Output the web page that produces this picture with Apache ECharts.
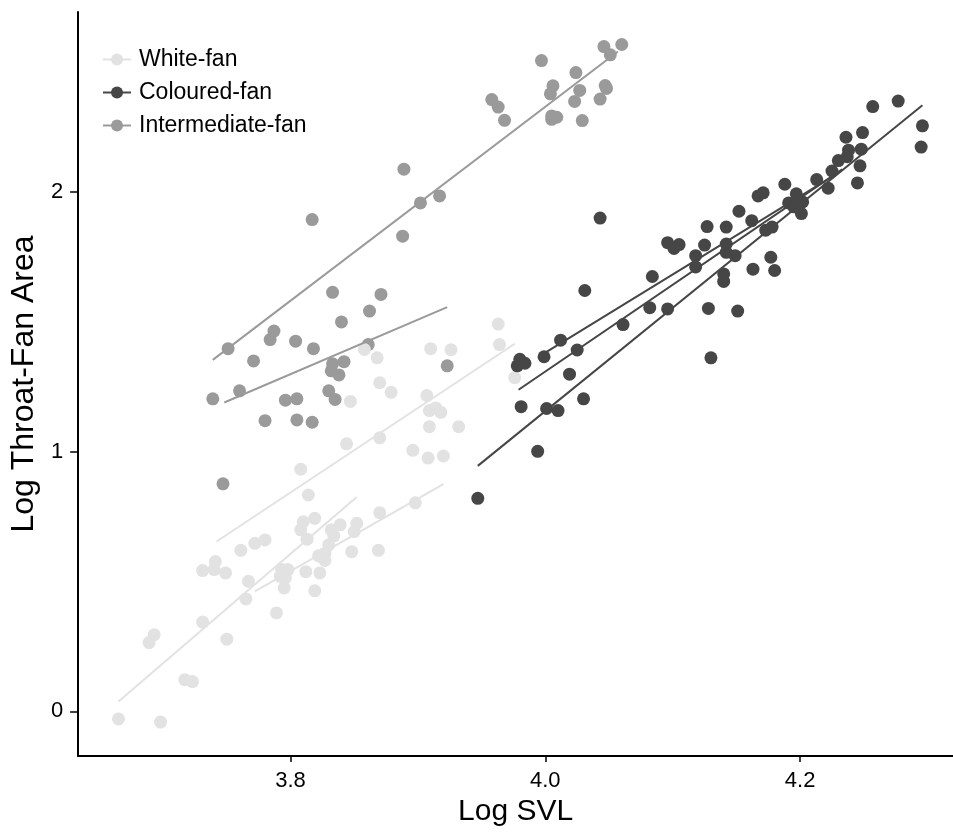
<!DOCTYPE html>
<html>
<head>
<meta charset="UTF-8">
<title>throat fan</title>
<script src="https://cdn.jsdelivr.net/npm/echarts@6.0.0/dist/echarts.min.js"></script>
<style>
  html, body { margin: 0; padding: 0; background: #fff; }
  #main { width: 953px; height: 832px; }
</style>
</head>
<body>
<div id="main"></div>
<script type="text/javascript">
// log SVL / log throat-fan area
var whitePts = [
    [3.858,1.393],[3.868,1.361],[3.910,1.396],[3.926,1.392],[3.870,1.265],[3.879,1.228],
    [3.847,1.193],[3.907,1.216],[3.909,1.158],[3.914,1.168],[3.918,1.151],[3.909,1.096],
    [3.932,1.096],[3.844,1.030],[3.870,1.053],[3.896,1.005],[3.908,0.975],[3.920,0.983],
    [3.808,0.932],[3.814,0.833],[3.810,0.730],[3.819,0.743],[3.808,0.699],[3.813,0.663],
    [3.832,0.699],[3.839,0.718],[3.852,0.724],[3.850,0.692],[3.870,0.765],[3.898,0.803],
    [3.834,0.676],[3.830,0.641],[3.827,0.609],[3.822,0.599],[3.827,0.581],[3.848,0.615],
    [3.869,0.620],[3.772,0.647],[3.780,0.660],[3.761,0.620],[3.741,0.577],[3.731,0.542],
    [3.740,0.546],[3.749,0.533],[3.767,0.501],[3.793,0.546],[3.798,0.546],[3.792,0.520],
    [3.796,0.514],[3.795,0.475],[3.812,0.538],[3.823,0.533],[3.819,0.464],[3.765,0.433],
    [3.789,0.379],[3.731,0.344],[3.750,0.278],[3.693,0.295],[3.689,0.265],[3.717,0.122],
    [3.723,0.115],[3.665,-0.029],[3.698,-0.041],[3.963,1.491],[3.964,1.412],[3.976,1.285]
];
var colouredPts = [
    [4.188,2.029],[4.213,2.047],[4.222,2.014],[4.245,2.034],[4.167,1.984],[4.171,1.996],
    [4.197,1.992],[4.191,1.957],[4.202,1.961],[4.201,1.916],[4.195,1.942],[4.152,1.925],
    [4.162,1.889],[4.127,1.866],[4.142,1.864],[4.173,1.852],[4.178,1.864],[4.043,1.899],
    [4.096,1.804],[4.105,1.797],[4.101,1.782],[4.125,1.795],[4.142,1.799],[4.118,1.754],
    [4.142,1.767],[4.149,1.754],[4.177,1.748],[4.118,1.711],[4.163,1.702],[4.180,1.697],
    [4.140,1.684],[4.140,1.655],[4.084,1.674],[4.031,1.620],[4.128,1.551],[4.151,1.541],
    [4.082,1.554],[4.096,1.549],[4.061,1.489],[4.012,1.429],[3.999,1.365],[4.025,1.391],
    [3.980,1.355],[3.984,1.340],[3.978,1.330],[4.130,1.361],[4.019,1.298],[3.981,1.173],
    [4.001,1.166],[4.010,1.158],[4.030,1.203],[3.994,1.001],[3.947,0.820],
    [4.257,2.328],[4.277,2.349],[4.296,2.254],[4.295,2.172],[4.249,2.228],[4.248,2.164],
    [4.236,2.210],[4.238,2.160],[4.237,2.135],[4.247,2.100],[4.230,2.120],[4.225,2.080]
];
var interPts = [
    [3.833,1.613],[3.871,1.605],[3.862,1.541],[3.840,1.499],[3.787,1.464],[3.784,1.431],
    [3.804,1.425],[3.818,1.396],[3.751,1.396],[3.861,1.412],[3.771,1.349],[3.833,1.338],
    [3.842,1.346],[3.832,1.311],[3.838,1.295],[3.923,1.330],[3.739,1.203],[3.760,1.234],
    [3.796,1.198],[3.805,1.203],[3.830,1.234],[3.835,1.201],[3.780,1.119],[3.805,1.122],
    [3.817,1.113],[3.747,0.876],[4.046,2.559],[4.060,2.567],[4.051,2.527],[3.997,2.505],
    [4.024,2.459],[4.006,2.408],[4.004,2.377],[4.027,2.390],[4.047,2.409],[4.048,2.398],
    [4.023,2.348],[4.043,2.357],[3.958,2.355],[3.963,2.326],[3.968,2.275],[4.005,2.292],
    [4.009,2.287],[4.005,2.279],[4.029,2.274],[3.889,2.087],[3.917,1.984],[3.902,1.957],
    [3.817,1.893],[3.888,1.829]
];
// fitted lines, [start, end]
var whiteFits = [
    [[3.665,0.038],[3.852,0.825]],
    [[3.742,0.654],[3.976,1.415]],
    [[3.772,0.462],[3.920,0.875]]
];
var colouredFits = [
    [[3.947,0.945],[4.296,2.333]],
    [[3.979,1.238],[4.233,2.086]],
    [[4.000,1.381],[4.229,2.070]]
];
var interFits = [
    [[3.739,1.353],[4.057,2.540]],
    [[3.748,1.189],[3.923,1.556]]
];
var xTicks = [3.8, 4.0, 4.2];
var yTicks = [0, 1, 2];

var groups = [
    {name: 'White-fan', color: '#e2e2e2', pts: whitePts, fits: whiteFits},
    {name: 'Coloured-fan', color: '#464646', pts: colouredPts, fits: colouredFits},
    {name: 'Intermediate-fan', color: '#9a9a9a', pts: interPts, fits: interFits}
];

var series = [];
// lines first so the legend takes the line+dot icon
groups.forEach(function (g) {
    g.fits.forEach(function (f) {
        series.push({
            name: g.name,
            type: 'line',
            data: f,
            symbol: 'circle',
            showSymbol: false,
            color: g.color,
            lineStyle: {color: g.color, width: 2},
            z: 5,
            silent: true
        });
    });
});
// scatter: intermediate under white under coloured
[2, 0, 1].forEach(function (i, k) {
    var g = groups[i];
    series.push({
        name: g.name,
        type: 'scatter',
        data: g.pts,
        symbolSize: 13,
        itemStyle: {color: g.color, opacity: 1},
        z: 2 + k * 0.1
    });
});

var font = "'Liberation Sans', Arial, sans-serif";
var myChart = echarts.init(document.getElementById('main'));
var option = {
    animation: false,
    backgroundColor: '#fff',
    grid: {left: 67, top: 12, right: 0, bottom: 71, containLabel: false},
    legend: {
        orient: 'vertical',
        left: 97,
        top: 43,
        itemWidth: 28,
        itemHeight: 15,
        itemGap: 10,
        data: groups.map(function (g) { return g.name; }),
        textStyle: {fontFamily: font, fontSize: 23, color: '#000', padding: [0, 0, 0, 3]}
    },
    xAxis: {
        type: 'value',
        min: 3.6333,
        max: 4.32,
        name: 'Log SVL',
        nameLocation: 'middle',
        nameGap: 37,
        nameTextStyle: {fontFamily: font, fontSize: 30, color: '#000'},
        splitLine: {show: false},
        axisLine: {show: true, onZero: false, lineStyle: {color: '#000', width: 2}},
        axisTick: {show: true, length: 6, customValues: xTicks, lineStyle: {color: '#000', width: 1.5}},
        axisLabel: {
            customValues: xTicks,
            margin: 14,
            fontFamily: font, fontSize: 22, color: '#000',
            formatter: function (v) { return v.toFixed(1); }
        }
    },
    yAxis: {
        type: 'value',
        min: -0.172,
        max: 2.692,
        name: 'Log Throat-Fan Area',
        nameLocation: 'middle',
        nameGap: 31,
        nameTextStyle: {fontFamily: font, fontSize: 32, color: '#000'},
        splitLine: {show: false},
        axisLine: {show: true, onZero: false, lineStyle: {color: '#000', width: 2}},
        axisTick: {show: true, length: 8, customValues: yTicks, lineStyle: {color: '#000', width: 1.5}},
        axisLabel: {
            customValues: yTicks,
            margin: 15,
            fontFamily: font, fontSize: 22, color: '#000'
        }
    },
    series: series
};
myChart.setOption(option);
</script>
</body>
</html>
